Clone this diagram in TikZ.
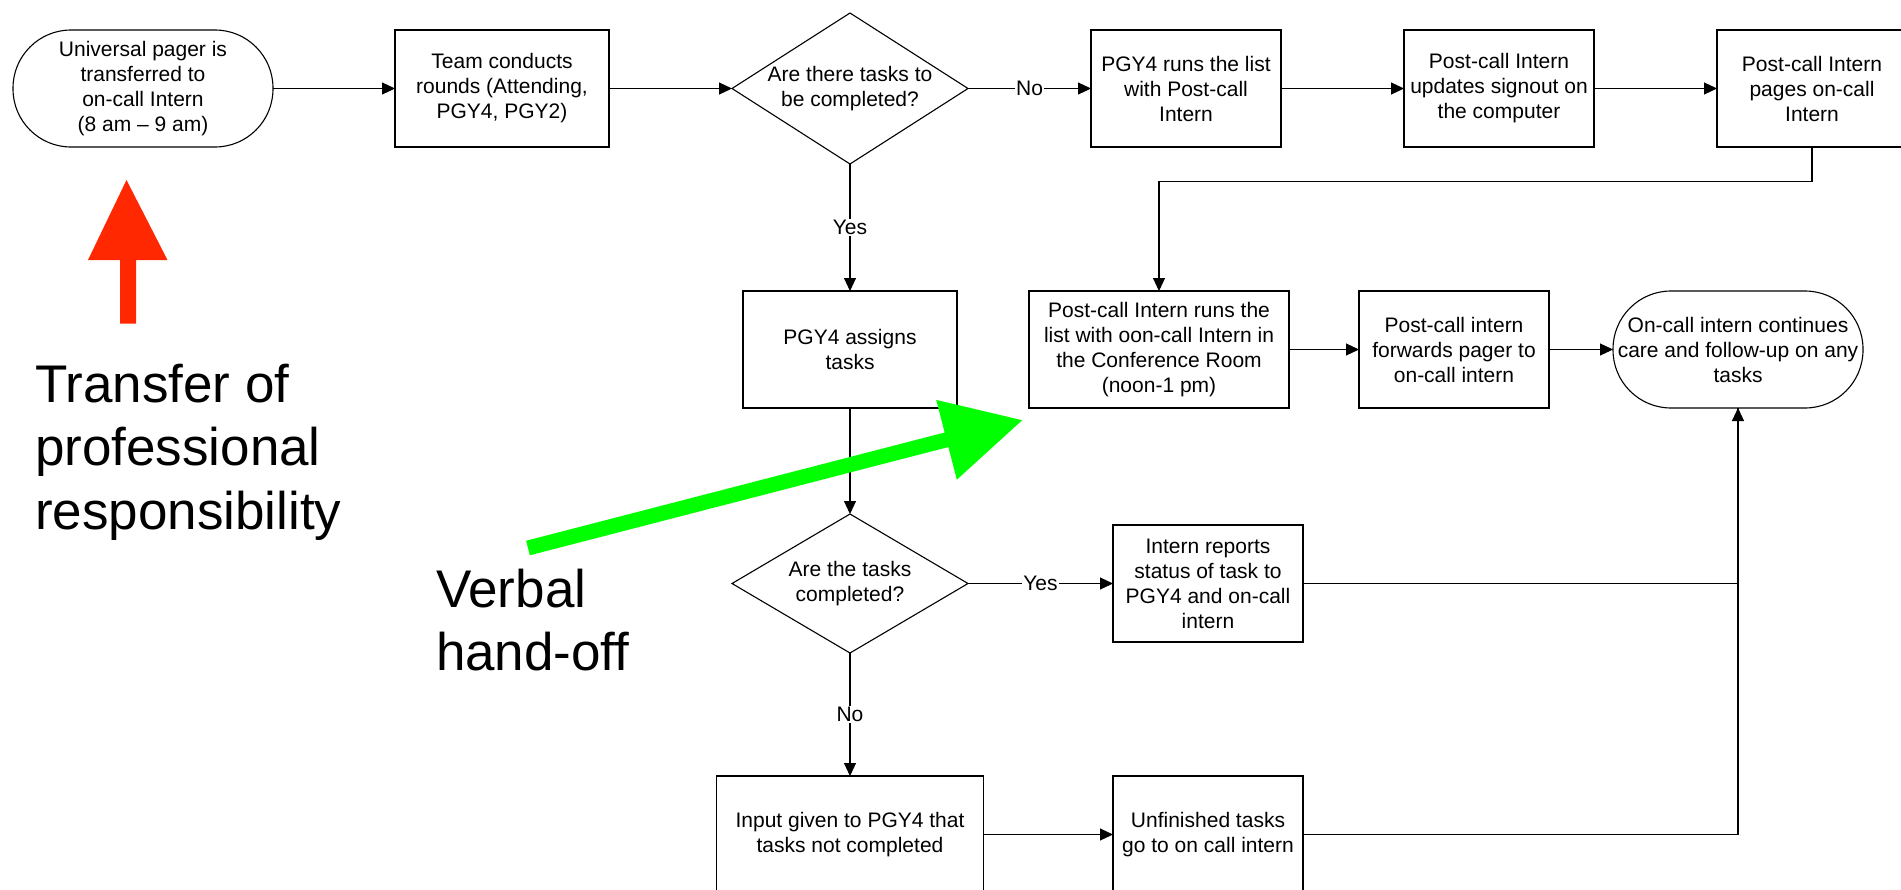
\documentclass[tikz,border=0pt]{standalone}
\usepackage{fontspec}
\setmainfont{Liberation Sans}
\usetikzlibrary{positioning,shapes.geometric,arrows.meta}
\definecolor{handoff}{RGB}{0,255,0}
\definecolor{transfer}{RGB}{255,40,0}

\begin{document}
\begin{tikzpicture}[x=1pt,y=-1pt,line width=1.1pt,
	every node/.style={font=\fontsize{21}{25}\selectfont,align=center,inner sep=2pt,outer sep=0pt},
	box/.style={draw,minimum width=#1,minimum height=117pt},
	box/.default=190pt,
	term/.style={draw,rounded corners=58pt,minimum width=#1,minimum height=117pt},
	decision/.style={draw,diamond,aspect=1.56,inner sep=0pt,minimum width=236pt,minimum height=#1},
	flow/.style={-{Triangle[length=13pt,width=12pt]}},
	answer/.style={fill=white,inner sep=1pt},
	big/.style={font=\fontsize{53}{63.5}\selectfont,align=left,inner sep=0pt,anchor=north west}]
\useasboundingbox (0,0) rectangle (1901,889);
\clip (0,0) rectangle (1901,889);
\node[term=260pt] (start) at (143,88.5) {Universal pager is\\transferred to\\on-call Intern\\(8 am – 9 am)};
\node[box=214pt,right=122pt of start] (rounds) {Team conducts\\rounds (Attending,\\PGY4, PGY2)};
\node[decision=151pt,right=123pt of rounds] (tasks) {Are there tasks to\\be completed?};
\node[box,right=123pt of tasks] (runlist) {PGY4 runs the list\\with Post-call\\Intern};
\node[box,right=123pt of runlist] (signout) {Post-call Intern\\updates signout on\\the computer};
\node[box,right=123pt of signout] (pages) {Post-call Intern\\pages on-call\\Intern};
\node[box=214pt,below=127pt of tasks] (assign) {PGY4 assigns\\tasks};
\node[box=260pt,right=72pt of assign] (conf) {Post-call Intern runs the\\list with oon-call Intern in\\the Conference Room\\(noon-1 pm)};
\node[box,right=70pt of conf] (forward) {Post-call intern\\forwards pager to\\on-call intern};
\node[term=250pt,right=64pt of forward] (care) {On-call intern continues\\care and follow-up on any\\tasks};
\node[decision=139pt,aspect=1.7,below=106pt of assign] (done) {Are the tasks\\completed?};
\node[box,right=145pt of done] (report) {Intern reports\\status of task to\\PGY4 and on-call\\intern};
\node[box=267pt,below=123pt of done] (input) {Input given to PGY4 that\\tasks not completed};
\node[box] (unfinished) at (report |- input) {Unfinished tasks\\go to on call intern};

\draw[flow] (start) -- (rounds);
\draw[flow] (rounds) -- (tasks);
\draw[flow] (tasks) -- node[answer]{No} (runlist);
\draw[flow] (runlist) -- (signout);
\draw[flow] (signout) -- (pages);
\draw[flow] (tasks) -- node[answer]{Yes} (assign);
\draw[flow] (pages.south) -- ++(0,34.5) -| (conf.north);
\draw[flow] (conf) -- (forward);
\draw[flow] (forward) -- (care);
\draw[flow] (assign) -- (done);
\draw[flow] (done) -- node[answer]{Yes} (report);
\draw[flow] (done) -- node[answer]{No} (input);
\draw[flow] (input) -- (unfinished);
\draw (report) -| (care);
\draw[flow] (unfinished) -| (care);

\fill[transfer] (126.5,180) -- (167.5,260) -- (136,260) -- (136,323.5) -- (120,323.5) -- (120,260) -- (88,260) -- cycle;
\node[big] (responsibility) at (35,364) {Transfer of\\professional\\responsibility};
\node[big] (verbal) at (436,569) {Verbal\\hand-off};
\draw[handoff,line width=15pt,-{Triangle[length=79pt,width=78pt]}] (528,548) -- (1023,420);
\end{tikzpicture}
\end{document}
